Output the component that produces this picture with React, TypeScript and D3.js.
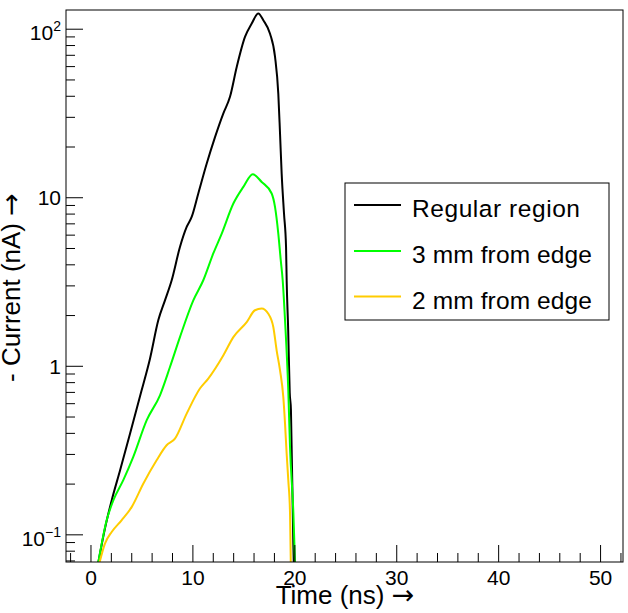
import React from "react";
import * as d3 from "d3";

const seriesNames = ["Regular region", "3 mm from edge", "2 mm from edge"];
const seriesColors = ["#000000", "#00ff00", "#ffcc00"];

const timeRegular = [0.65, 1.37, 2.03, 2.85, 3.83, 4.97, 5.79, 6.61, 7.26, 7.92, 8.73, 9.39, 9.88, 10.53, 11.35, 12.17, 12.98, 13.64, 14.3, 15.11, 15.77, 16.42, 16.91, 17.57, 18.06, 18.38, 18.55, 18.71, 18.94, 19.14, 19.2, 19.35, 19.5, 19.62, 19.85, 19.95];
const currentRegular = [0.065, 0.109, 0.16, 0.241, 0.398, 0.72, 1.11, 1.88, 2.46, 3.24, 5.1, 6.71, 7.69, 10.6, 15.9, 22.9, 31.6, 39.7, 59.7, 90, 108, 124, 113, 94, 68.5, 41.5, 24, 13.9, 8.06, 5.1, 3.24, 1.64, 0.7, 0.55, 0.09, 0.05];

const time3mm = [0.65, 1.54, 2.19, 3.17, 4.15, 5.47, 6.77, 7.75, 8.73, 10.04, 11.02, 12.0, 12.83, 13.97, 14.95, 15.87, 16.75, 17.73, 18.06, 18.38, 18.62, 18.81, 19.04, 19.36, 19.53, 19.86, 20.05];
const current3mm = [0.065, 0.122, 0.16, 0.211, 0.29, 0.479, 0.673, 0.99, 1.49, 2.46, 3.24, 4.67, 6.13, 9.24, 11.6, 13.8, 12.4, 10.6, 8.8, 6.13, 4.26, 3.24, 1.88, 0.72, 0.332, 0.134, 0.06];

const time2mm = [0.75, 1.37, 2.03, 3.0, 3.99, 5.13, 6.44, 7.42, 8.24, 9.39, 10.69, 11.51, 12.98, 13.97, 15.28, 16.09, 16.75, 17.4, 17.89, 18.22, 18.55, 18.87, 19.04, 19.2, 19.36, 19.53, 19.62];
const current2mm = [0.065, 0.0887, 0.104, 0.122, 0.146, 0.201, 0.277, 0.34, 0.372, 0.524, 0.738, 0.846, 1.16, 1.49, 1.83, 2.15, 2.2, 2.05, 1.71, 1.24, 0.947, 0.658, 0.457, 0.303, 0.211, 0.134, 0.06];

const xMajorTicks = [0, 10, 20, 30, 40, 50];
const yMajorTicks = [0.1, 1, 10, 100];
const yTickBase = ["10", "1", "10", "10"];
const yTickExp = ["\u22121", "", "", "2"];

const xTitleText = "Time (ns) ";
const yTitleText = "- Current (nA) ";
const arrow = "\u2192";

const FONT = "'Liberation Sans', Arial, Helvetica, sans-serif";
const ARROW_FONT = "'DejaVu Sans', sans-serif";

export default function App() {
  const W = 628, H = 613;
  const left = 66, right = 623, top = 10, bottom = 562;
  const x = d3.scaleLinear().domain([-2.45, 52.2]).range([left, right]);
  const y = d3.scaleLog().domain([0.069, 130]).range([bottom, top]);

  const series = [
    { t: timeRegular, v: currentRegular },
    { t: time3mm, v: current3mm },
    { t: time2mm, v: current2mm },
  ];
  const line = d3
    .line<[number, number]>()
    .x((d) => x(d[0]))
    .y((d) => y(d[1]))
    .curve(d3.curveMonotoneX);

  const xMinor: number[] = d3.range(-2, 53, 2).filter((v) => v % 10 !== 0);
  const yMinor: number[] = [];
  [0.01, 0.1, 1, 10, 100].forEach((dec) => {
    for (let k = 2; k <= 9; k++) {
      const v = dec * k;
      if (v >= 0.069 && v <= 130) yMinor.push(v);
    }
  });

  const legendX = 345, legendY = 183, legendW = 264, legendH = 137;
  const rowYs = [205, 251, 296.5];
  const textLens = [168, 180, 180];

  return (
    <svg
      width={W}
      height={H}
      style={{ position: "absolute", left: 0, top: 0, background: "#fff" }}
      fontFamily={FONT}
    >
      <rect x={0} y={0} width={W} height={H} fill="#fff" />
      <defs>
        <clipPath id="plotclip">
          <rect x={left} y={top} width={right - left} height={bottom - top} />
        </clipPath>
      </defs>
      <g clipPath="url(#plotclip)">
        {series.map((s, i) => (
          <path
            key={i}
            d={line(s.t.map((t, j) => [t, s.v[j]] as [number, number])) || ""}
            fill="none"
            stroke={seriesColors[i]}
            strokeWidth={2}
            strokeLinejoin="round"
          />
        ))}
      </g>
      <rect x={left} y={top} width={right - left} height={bottom - top} fill="none" stroke="#000" strokeWidth={1} />
      {xMajorTicks.map((v) => (
        <line key={"xM" + v} x1={x(v)} x2={x(v)} y1={bottom} y2={bottom - 17} stroke="#000" />
      ))}
      {xMinor.map((v) => (
        <line key={"xm" + v} x1={x(v)} x2={x(v)} y1={bottom} y2={bottom - 9} stroke="#000" />
      ))}
      {xMajorTicks.map((v) => (
        <text key={"xl" + v} x={x(v)} y={585} textAnchor="middle" fontSize={21}>
          {v}
        </text>
      ))}
      {yMajorTicks.map((v) => (
        <line key={"yM" + v} x1={left} x2={left + 17} y1={y(v)} y2={y(v)} stroke="#000" />
      ))}
      {yMinor.map((v) => (
        <line key={"ym" + v} x1={left} x2={left + 9} y1={y(v)} y2={y(v)} stroke="#000" />
      ))}
      {yMajorTicks.map((v, i) => (
        <text
          key={"yl" + v}
          x={61}
          y={y(v) + (yTickExp[i] ? 11 : 7.5)}
          textAnchor="end"
          fontSize={21}
        >
          {yTickBase[i]}
          {yTickExp[i] ? (
            <tspan fontSize={14} dy={-9}>
              {yTickExp[i]}
            </tspan>
          ) : null}
        </text>
      ))}
      <text x={345} y={604} textAnchor="middle" fontSize={26}>
        {xTitleText}
        <tspan fontFamily={ARROW_FONT} fontSize={27}>{arrow}</tspan>
      </text>
      <text transform={`translate(20,287.5) rotate(-90)`} textAnchor="middle" fontSize={26}>
        {yTitleText}
        <tspan fontFamily={ARROW_FONT} fontSize={27}>{arrow}</tspan>
      </text>
      <rect x={legendX} y={legendY} width={legendW} height={legendH} fill="#fff" stroke="#000" strokeWidth={1} />
      {seriesNames.map((name, i) => (
        <g key={name}>
          <line x1={354} x2={401} y1={rowYs[i]} y2={rowYs[i]} stroke={seriesColors[i]} strokeWidth={2} />
          <text x={412} y={rowYs[i] + 12} fontSize={24.5} textLength={textLens[i]} lengthAdjust="spacing">
            {name}
          </text>
        </g>
      ))}
    </svg>
  );
}
